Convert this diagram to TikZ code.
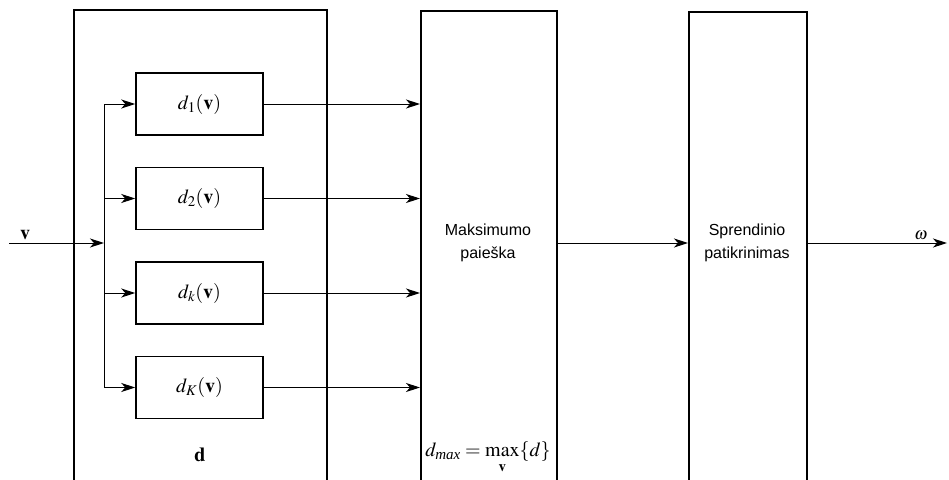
\documentclass[tikz,border=0pt]{standalone}
\usepackage{mathptmx}
\usepackage{fontspec}
\setmainfont{Liberation Serif}
\setsansfont{Liberation Sans}
\usetikzlibrary{arrows.meta}

\begin{document}
\begin{tikzpicture}[x=1pt, y=-1pt, node distance=94.5pt,
  >={Stealth[length=14pt, width=9pt, inset=4pt]},
  big box/.style={draw, line width=2pt, inner sep=0pt, minimum height=490pt, anchor=north west},
  small box/.style={draw, line width=1.5pt, inner sep=0pt, minimum width=127pt, minimum height=62pt,
    font=\fontsize{20}{22}\selectfont},
  wire/.style={line width=1pt, ->},
  block text/.style={align=center, font=\sffamily\fontsize{16}{23}\selectfont}]
\useasboundingbox (0,0) rectangle (949,479);
\clip (0,0) rectangle (949,479);

\node[big box, minimum width=253pt] (d)   at (73,9)   {};
\node[big box, minimum width=136pt] (max) at (420,10) {};
\node[big box, minimum width=118pt] (chk) at (688,11) {};

\node[small box]                (d1) at (199.5,104) {$d_1(\mathbf{v})$};
\node[small box, below of=d1]   (d2) {$d_2(\mathbf{v})$};
\node[small box, below of=d2]   (dk) {$d_k(\mathbf{v})$};
\node[small box, below of=dk]   (dK) {$d_K(\mathbf{v})$};

\node[block text] (maxtxt) at (488,243) {Maksimumo\\paieška};
\node[block text] (chktxt) at (747,243) {Sprendinio\\patikrinimas};
\node[font=\fontsize{20}{22}\selectfont] (dlabel) at (200,455) {$\mathbf{d}$};
\node[font=\fontsize{20}{22}\selectfont] (dmax) at (488,458)
  {$d_{\mbox{\fontsize{15}{15}\itshape max}} = \max\limits_{\lower3pt\hbox{$\scriptstyle\mathbf{v}$}}\{d\}$};

\coordinate (in)  at (9,243);
\coordinate (bus) at (104,243);
\coordinate (out) at (947,243);
\node[font=\fontsize{20}{22}\selectfont, above] (vlabel) at (25,243) {$\mathbf{v}$};
\node[font=\fontsize{17}{20}\selectfont, above] (wlabel) at (921,243) {$\omega$};

% input bus
\draw[wire] (in) -- (bus);
\draw[line width=1pt] (d1.west -| bus) -- (dK.west -| bus);
\foreach \n in {d1,d2,dk,dK}
  \draw[wire] (\n.west -| bus) -- (\n.west);

% to the maximum search
\foreach \n in {d1,d2,dk,dK}
  \draw[wire] (\n.east) -- (\n.east -| max.west);

\draw[wire] (max.east |- bus) -- (chk.west |- bus);
\draw[wire] (chk.east |- bus) -- (out);
\end{tikzpicture}
\end{document}
